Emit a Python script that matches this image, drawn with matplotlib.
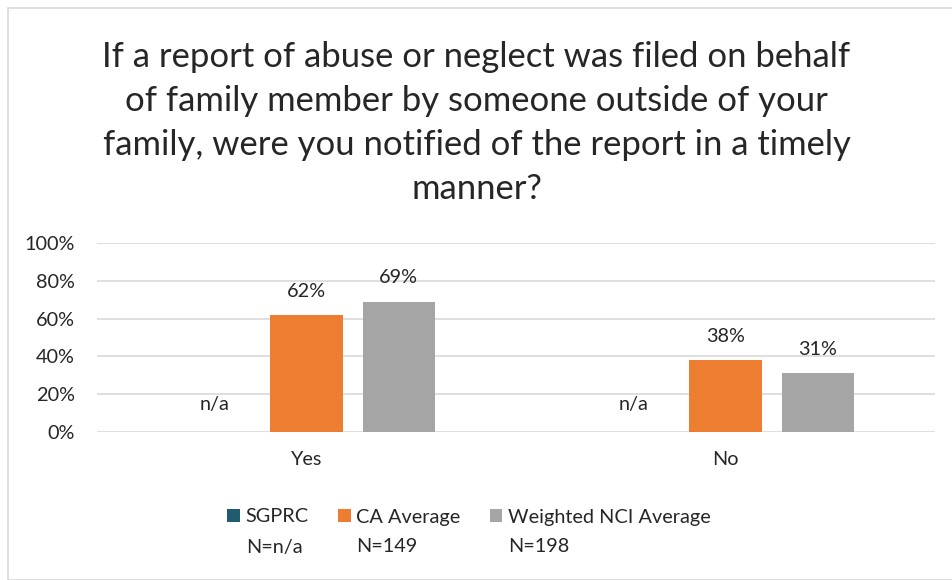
import numpy as np
import matplotlib
matplotlib.use('agg')
import matplotlib.pyplot as plt
from matplotlib.patches import Rectangle

plt.rcParams['font.family'] = ['Lato', 'DejaVu Sans']

categories = ['Yes', 'No']
series = ['SGPRC', 'CA Average', 'Weighted NCI Average']
counts = ['N=n/a', 'N=149', 'N=198']
sgprc = [np.nan, np.nan]
ca_avg = [62, 38]
nci_avg = [69, 31]
colors = ['#1f5c6e', '#ed7d31', '#a5a5a5']
txt = '#262626'
fs = 14.3

fig = plt.figure(figsize=(9.53, 5.80), dpi=100)
ax = fig.add_axes([97 / 953, 1 - 432 / 580, 838 / 953, 189 / 580])

# outer chart border
fig.patches.append(Rectangle((8 / 953, 0.0), 1.0, 1 - 8 / 580, transform=fig.transFigure,
                             fill=False, edgecolor='#d9d9d9', linewidth=1.2))

x = np.arange(len(categories))
w = 0.172
step = 0.22
for i, (vals, col, lab) in enumerate(zip([sgprc, ca_avg, nci_avg], colors, series)):
    pos = x + (i - 1) * step
    ax.bar(pos, np.nan_to_num(vals), width=w, color=col, label=lab, zorder=3)
    for p, v in zip(pos, vals):
        if np.isnan(v):
            ax.text(p, 10, 'n/a', ha='center', va='bottom', fontsize=fs, color=txt)
        else:
            ax.text(p, v + 8, f'{v:.0f}%', ha='center', va='bottom', fontsize=fs, color=txt)

ax.set_xlim(-0.5, 1.5)
ax.set_ylim(0, 100)
ax.set_yticks(range(0, 101, 20))
ax.set_yticklabels([f'{t}%' for t in range(0, 101, 20)], fontsize=fs, color=txt)
ax.set_xticks(x)
ax.set_xticklabels(categories, fontsize=fs, color=txt)
ax.tick_params(axis='y', length=0, pad=16)
ax.tick_params(axis='x', length=0, pad=14)
ax.grid(axis='y', color='#d9d9d9', linewidth=1.2, zorder=0)
for s in ax.spines.values():
    s.set_visible(False)

fig.text(0.5, 1 - 123 / 580,
         'If a report of abuse or neglect was filed on behalf\n'
         'of family member by someone outside of your\n'
         'family, were you notified of the report in a timely\n'
         'manner?', ha='center', va='center', fontsize=24.9, linespacing=1.47, color=txt)

leg = fig.legend(loc='center', bbox_to_anchor=(469 / 953, 1 - 517 / 580), ncol=3, frameon=False,
                 fontsize=fs, handlelength=0.65, handleheight=0.65, handletextpad=0.3,
                 columnspacing=1.45, labelcolor=txt, borderpad=0)

# sample sizes under each legend entry
fig.canvas.draw()
inv = fig.transFigure.inverted()
for t, n in zip(leg.get_texts(), counts):
    bb = t.get_window_extent()
    x0, y0 = inv.transform((bb.x0, (bb.y0 + bb.y1) / 2 - 30))
    fig.text(x0, y0, n, ha='left', va='center', fontsize=fs, color=txt)

plt.savefig('out.png', dpi=100)
